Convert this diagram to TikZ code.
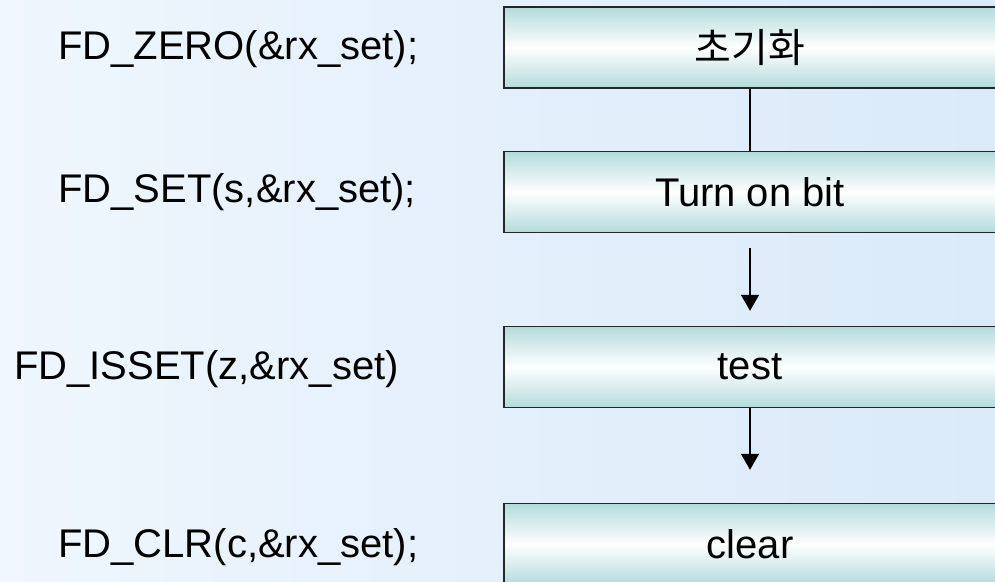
\documentclass[tikz,border=0pt]{standalone}
\usepackage{fontspec}
\setmainfont{Liberation Sans}
\newfontfamily\krfont{Noto Sans CJK KR}
\usetikzlibrary{arrows.meta}
\definecolor{boxteal}{HTML}{B3DADB}
\definecolor{bgleft}{HTML}{EFF6FD}
\definecolor{bgright}{HTML}{DAEAF9}
\begin{document}
\begin{tikzpicture}[x=1pt,y=1pt,
  stepbox/.style={draw=black!85, line width=1.4pt, top color=boxteal,
    bottom color=boxteal, middle color=white, minimum width=492pt,
    minimum height=81pt, inner sep=0pt, font=\fontsize{40}{48}\selectfont},
  code/.style={font=\fontsize{40}{48}\selectfont, inner sep=0pt},
  flow/.style={line width=1.4pt, -{Triangle[width=18pt,length=16pt]}},
  link/.style={line width=1.4pt}]
\useasboundingbox (0,0) rectangle (995,581);
\clip (0,0) rectangle (995,581);
% background
\shade[left color=bgleft, right color=bgright] (0,0) rectangle (995,581);

% flow boxes
\node[stepbox] (b1) at (750,533.5) {\krfont 초기화};
\node[stepbox] (b2) at (750,389) {Turn on bit};
\node[stepbox] (b3) at (750,214) {test};
\node[stepbox] (b4) at (750,37) {clear};

% connectors
\draw[link] (b1.south) -- (b2.north);
\draw[flow] ([yshift=-15pt]b2.south) -- ([yshift=15pt]b3.north);
\draw[flow] (b3.south) -- ([yshift=33pt]b4.north);

% macro calls
\node[code, anchor=base west] (c1) at (58,521) {FD\_ZERO(\&rx\_set);};
\node[code, anchor=base west] (c2) at (58,378) {FD\_SET(s,\&rx\_set);};
\node[code, anchor=base west] (c3) at (14,201) {FD\_ISSET(z,\&rx\_set)};
\node[code, anchor=base west] (c4) at (58,24) {FD\_CLR(c,\&rx\_set);};
\end{tikzpicture}
\end{document}
